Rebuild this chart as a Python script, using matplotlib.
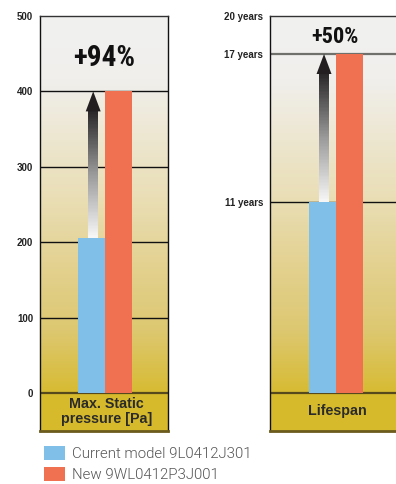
import numpy as np
import matplotlib.pyplot as plt
from matplotlib.colors import LinearSegmentedColormap
from matplotlib.patches import Polygon

# left panel: max static pressure [Pa]
pressure_ticks = [0, 100, 200, 300, 400, 500]
pressure_values = [206, 400]
pressure_gain = "+94%"

# right panel: lifespan in years
life_ticks = [11, 17, 20]
life_tick_labels = ["11 years", "17 years", "20 years"]
life_values = [11, 17]
life_gain = "+50%"

series_labels = ["Current model 9L0412J301", "New 9WL0412P3J001"]
panel_titles = ["Max. Static\npressure [Pa]", "Lifespan"]

BLUE = "#80bfe8"
RED = "#f07052"
BAND = "#d6ba2c"
COND = ["Roboto Condensed", "DejaVu Sans"]

bg_cmap = LinearSegmentedColormap.from_list(
    "bg", ["#d7bb33", "#ddc871", "#e3d18f", "#e9ddb2", "#ede6cf", "#f0efec", "#f1f1f0"])
arrow_cmap = LinearSegmentedColormap.from_list("shaft", ["#f6f6f6", "#9a9a9a", "#2a2829"])

W, H = 396, 484
fig = plt.figure(figsize=(W / 100, H / 100), dpi=100)

def axes_box(left, right, top=16, bottom=431):
    return [left / W, 1 - bottom / H, (right - left) / W, (bottom - top) / H]

# the lifespan axis is stretched unevenly, so map it piecewise
life_pts = [-100, -2, 0, 11, 17, 20, 100]
life_pix = [-1900, -38, 0, 191, 339, 377, 2277]

def life_fwd(y):
    return np.interp(y, life_pts, life_pix)

def life_inv(p):
    return np.interp(p, life_pix, life_pts)

band_frac = 38 / 415


def draw_panel(ax, values, ticks, tick_labels, ylo, yhi, lines, gain, gain_pos, gain_size, title, title_x):
    grad = np.linspace(0, 1, 256).reshape(-1, 1)
    ax.imshow(grad, extent=(0, 1, band_frac, 1), origin="lower", transform=ax.transAxes,
              aspect="auto", cmap=bg_cmap, zorder=0)
    ax.axhspan(ylo, 0, color=BAND, zorder=1, lw=0)
    ax.axhline(0, color="#564a1d", lw=1.6, zorder=2)
    for y, c, lw in lines:
        ax.axhline(y, color=c, lw=lw, zorder=2)

    bars = ax.bar([-0.5, 0.5], values, width=1, color=[BLUE, RED], zorder=3, lw=0)

    ax.set_ylim(ylo, yhi)
    ax.set_yticks(ticks)
    ax.set_yticklabels(tick_labels, fontsize=7, fontweight="bold", color="#222222",
                       family="Liberation Sans")
    ax.tick_params(axis="y", length=0, pad=5)
    ax.set_xticks([])

    # gradient arrow from the current value up to the new one
    x = -0.44
    to_disp = ax.transData
    inv = to_disp.inverted()
    tip = to_disp.transform((x, values[1]))
    start = to_disp.transform((x, values[0]))
    base_y = tip[1] - 20
    hw = inv.transform((tip[0] + 7.5, tip[1]))[0] - x
    sw = inv.transform((tip[0] + 5, tip[1]))[0] - x
    ys_disp = np.linspace(start[1], base_y + 0.5, 90)
    ys = np.array([inv.transform((tip[0], yd))[1] for yd in ys_disp])
    cols = arrow_cmap(np.linspace(0, 1, len(ys) - 1))
    ax.bar(np.full(len(ys) - 1, x), np.diff(ys) * 1.05, bottom=ys[:-1], width=2 * sw,
           color=cols, lw=0, antialiased=False, zorder=4)
    base = inv.transform((tip[0], base_y))[1]
    ax.add_patch(Polygon([(x - hw, base), (x + hw, base), (x, values[1])],
                         closed=True, color="#231f20", lw=0, zorder=5))

    ax.text(gain_pos[0], gain_pos[1], gain, transform=ax.transAxes, ha="center", va="center",
            fontsize=gain_size, fontweight="bold", family=COND, color="#111111", zorder=6)
    ax.text(title_x, 0.047, title, transform=ax.transAxes, ha="center", va="center",
            fontsize=10.3, fontweight="bold", family="Liberation Sans", color="#2b2b2b",
            linespacing=1.1, zorder=6)

    for s in ("left", "right"):
        ax.spines[s].set_color("#111111")
        ax.spines[s].set_linewidth(1)
    ax.spines["top"].set_color("#333333")
    ax.spines["top"].set_linewidth(1)
    ax.spines["bottom"].set_color("#6b5b1d")
    ax.spines["bottom"].set_linewidth(2)
    return bars


ax1 = fig.add_axes(axes_box(40, 168))
ax1.set_xlim(-2.41, 2.33)
ax1.set_ylim(-50.4, 500)
bars = draw_panel(ax1, pressure_values, pressure_ticks, [str(t) for t in pressure_ticks],
                  -50.4, 500, [(t, "#111111", 1.0) for t in pressure_ticks[1:-1]],
                  pressure_gain, (0.504, 0.9), 21, panel_titles[0], 0.52)

ax2 = fig.add_axes(axes_box(270, 404))
ax2.set_yscale("function", functions=(life_fwd, life_inv))
ax2.set_xlim(-2.44, 2.52)
ax2.set_ylim(-2, 20)
draw_panel(ax2, life_values, life_ticks, life_tick_labels, -2, 20,
           [(11, "#111111", 1.0), (17, "#6f6f6c", 1.6)],
           life_gain, (0.485, 0.95), 16, panel_titles[1], 0.5)

fig.legend(handles=[bars[0], bars[1]], labels=series_labels, loc="upper left",
           bbox_to_anchor=(44 / W, 1 - 446 / H), frameon=False,
           prop={"family": "Roboto", "weight": 300, "size": 10.8},
           handlelength=1.4, handleheight=1.05, handletextpad=0.5, labelspacing=0.42,
           borderpad=0, borderaxespad=0, labelcolor="#555555")

fig.savefig("out.png", dpi=100)
